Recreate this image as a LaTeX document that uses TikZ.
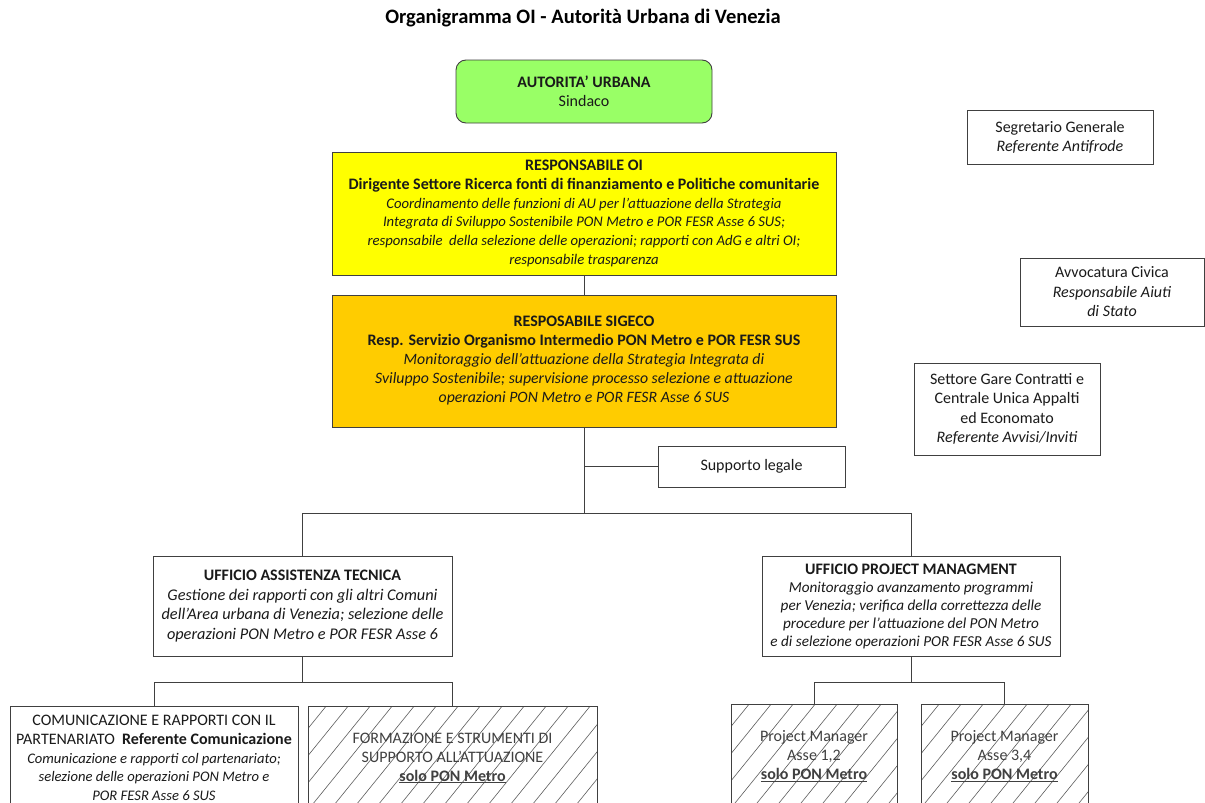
\documentclass[tikz,border=0pt]{standalone}
\usepackage{fontspec}
\setmainfont{Carlito}
\definecolor{lc}{HTML}{404040}
\definecolor{aufill}{HTML}{99FF66}
\definecolor{oifill}{HTML}{FFFF00}
\definecolor{sigfill}{HTML}{FFCC00}
\definecolor{txt}{HTML}{1A1A1A}
\newcommand\fit[2]{{\fontsize{#1}{19}\selectfont\itshape #2}}
\tikzset{
  box/.style={draw=lc, line width=0.9pt, align=center, inner sep=2pt, text=txt,
    font={\fontsize{16}{19}\selectfont}},
  hatchbox/.style={box, text=lc, path picture={
      \foreach \k in {-6,...,16}
        \draw[lc!85, line width=0.6pt] ([xshift=\k*22pt]path picture bounding box.south west) -- ++(51:200);
    }},
  conn/.style={draw=lc, line width=0.9pt},
}
\begin{document}
\begin{tikzpicture}[x=1pt,y=1pt]
\clip (0,0) rectangle (1205,-803);
\fill[white] (0,0) rectangle (1205,-803);

\node[font={\fontsize{20.5}{24}\selectfont\bfseries}] (title) at (583,-18) {Organigramma OI - Autorità Urbana di Venezia};

\node[box, fill=aufill, rounded corners=10pt, minimum width=256, minimum height=63] (au) at (584,-91.5)
  {\textbf{AUTORITA' URBANA}\\Sindaco};

\node[box, fill=oifill, minimum width=504, minimum height=123, font={\fontsize{16}{18.8}\selectfont}] (oi) at (584,-213.5)
  {\textbf{RESPONSABILE OI}\\
   \textbf{Dirigente Settore Ricerca fonti di finanziamento e Politiche comunitarie}\\
   \fit{14.7}{Coordinamento delle funzioni di AU per l’attuazione della Strategia}\\
   \fit{14.7}{Integrata di Sviluppo Sostenibile PON Metro e POR FESR Asse 6 SUS;}\\
   \fit{14.7}{responsabile \ della selezione delle operazioni; rapporti con AdG e altri OI;}\\
   \fit{14.7}{responsabile trasparenza}};

\node[box, fill=sigfill, minimum width=504, minimum height=132] (sig) at (584,-361)
  {\textbf{RESPOSABILE SIGECO}\\
   \textbf{Resp. Servizio Organismo Intermedio PON Metro e POR FESR SUS}\\
   \fit{15.8}{Monitoraggio dell'attuazione della Strategia Integrata di}\\
   \fit{15.8}{Sviluppo Sostenibile; supervisione processo selezione e attuazione}\\
   \fit{15.8}{operazioni PON Metro e POR FESR Asse 6 SUS}};

\node[box, minimum width=187, minimum height=41] (sl) at (751.5,-466.5) {Supporto legale};

\node[box, minimum width=299, minimum height=100, font={\fontsize{16}{19.5}\selectfont}] (uat) at (302.5,-606)
  {\textbf{UFFICIO ASSISTENZA TECNICA}\\
   \fit{16.3}{Gestione dei rapporti con gli altri Comuni}\\
   \fit{16.3}{dell'Area urbana di Venezia; selezione delle}\\
   \fit{16.3}{operazioni PON Metro e POR FESR Asse 6}};

\node[box, minimum width=298, minimum height=100, font={\fontsize{16}{18}\selectfont}] (upm) at (911,-606)
  {\textbf{UFFICIO PROJECT MANAGMENT}\\
   \fit{15.2}{Monitoraggio avanzamento programmi}\\
   \fit{15.2}{per Venezia; verifica della correttezza delle}\\
   \fit{15.2}{procedure per l’attuazione del PON Metro}\\
   \fit{15.2}{e di selezione operazioni POR FESR Asse 6 SUS}};

\node[box, minimum width=288, minimum height=104, font={\fontsize{16}{18.8}\selectfont}] (com) at (154,-758)
  {COMUNICAZIONE E RAPPORTI CON IL\\
   PARTENARIATO \ \textbf{Referente Comunicazione}\\
   \fit{14.6}{Comunicazione e rapporti col partenariato;}\\
   \fit{14.6}{selezione delle operazioni PON Metro e}\\
   \fit{14.6}{POR FESR Asse 6 SUS}};

\node[hatchbox, minimum width=289, minimum height=104] (form) at (452.5,-758)
  {FORMAZIONE E STRUMENTI DI\\
   SUPPORTO ALL’ATTUAZIONE\\
   \textbf{\underline{solo PON Metro}}};

\node[hatchbox, minimum width=166, minimum height=104] (pm1) at (814,-756)
  {Project Manager\\Asse 1,2\\\textbf{\underline{solo PON Metro}}};

\node[hatchbox, minimum width=167, minimum height=104] (pm2) at (1004.5,-756)
  {Project Manager\\Asse 3,4\\\textbf{\underline{solo PON Metro}}};

\node[box, minimum width=186, minimum height=54] (sg) at (1060,-137)
  {Segretario Generale\\\textit{Referente Antifrode}};

\node[box, minimum width=184, minimum height=68, font={\fontsize{16}{19.5}\selectfont}] (av) at (1112,-292)
  {Avvocatura Civica\\\textit{Responsabile Aiuti}\\\textit{di Stato}};

\node[box, minimum width=186, minimum height=92, font={\fontsize{16}{19.3}\selectfont}] (gare) at (1007,-409)
  {Settore Gare Contratti e\\Centrale Unica Appalti\\ed Economato\\\textit{Referente Avvisi/Inviti}};

% connectors
\coordinate (j1) at (584,-513);
\coordinate (j2) at (303,-682);
\coordinate (j3) at (910,-682);
\draw[conn] (oi.south) -- (sig.north);
\draw[conn] (sig.south) -- (j1);
\draw[conn] (sl.west) -- (sl.west -| sig.south);
\draw[conn] (uat.north) -- (uat.north |- j1) -- (upm.north |- j1) -- (upm.north);
\draw[conn] (uat.south) -- (uat.south |- j2);
\draw[conn] (com.north) -- (com.north |- j2) -- (form.north |- j2) -- (form.north);
\draw[conn] (upm.south) -- (upm.south |- j3);
\draw[conn] (pm1.north) -- (pm1.north |- j3) -- (pm2.north |- j3) -- (pm2.north);
\end{tikzpicture}
\end{document}
